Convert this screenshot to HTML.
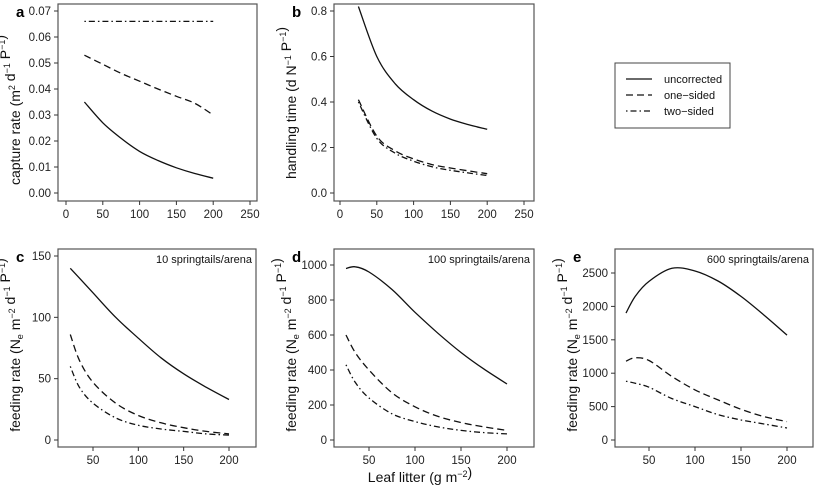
<!DOCTYPE html>
<html><head><meta charset="utf-8"><style>
body{margin:0;background:#fff}
svg{display:block;font-family:"Liberation Sans",sans-serif}
</style></head><body>
<svg id="s" width="814" height="491" viewBox="0 0 814 491" xmlns="http://www.w3.org/2000/svg"></svg>
<script>
const xA=[25,50,75,100,125,150,175,200];
const aSolid=[0.035,0.027,0.021,0.016,0.0125,0.0097,0.0075,0.0057];
const aDash=[0.053,0.0495,0.046,0.043,0.040,0.0372,0.0345,0.030];
const aDot=[0.066,0.066,0.066,0.066,0.066,0.066,0.066,0.066];
const bSolid=[0.82,0.60,0.48,0.41,0.36,0.325,0.30,0.28];
const bDash=[0.41,0.25,0.185,0.15,0.125,0.11,0.097,0.085];
const bDot=[0.40,0.24,0.175,0.14,0.115,0.10,0.088,0.077];
const xC=[25,35,50,75,100,125,150,175,200];
const cSolid=[140,132,120,100,83,67,54,43,33];
const cDash=[86,65,47,30,20,14,10,7,5];
const cDot=[60,43,30,18,12,9,7,5,4];
const dSolid=[980,990,960,860,730,610,500,405,320];
const dDash=[600,500,400,270,190,135,100,75,55];
const dDot=[430,330,240,150,105,75,55,42,35];
const eSolid=[1900,2150,2375,2570,2530,2380,2150,1870,1570];
const eDash=[1180,1230,1190,950,750,600,460,350,275];
const eDot=[880,850,790,620,500,380,300,240,180];
const ticksAB=[0,50,100,150,200,250];
const ticksX2=[50,100,150,200];

const S=document.getElementById('s');
const NS='http://www.w3.org/2000/svg';
function el(t,a,p){const e=document.createElementNS(NS,t);for(const k in a)e.setAttribute(k,a[k]);(p||S).appendChild(e);return e;}
const styles={solid:'none',dash:'7,4',dot:'1.5,3,6,3'};
const titles=[];
function smooth(pts){
  let d='M'+pts[0][0].toFixed(1)+','+pts[0][1].toFixed(1);
  for(let i=0;i<pts.length-1;i++){
    const p0=pts[i-1]||pts[i],p1=pts[i],p2=pts[i+1],p3=pts[i+2]||p2;
    const c1=[p1[0]+(p2[0]-p0[0])/6,p1[1]+(p2[1]-p0[1])/6];
    const c2=[p2[0]-(p3[0]-p1[0])/6,p2[1]-(p3[1]-p1[1])/6];
    d+=` C${c1[0].toFixed(1)},${c1[1].toFixed(1)} ${c2[0].toFixed(1)},${c2[1].toFixed(1)} ${p2[0].toFixed(1)},${p2[1].toFixed(1)}`;
  }
  return d;
}
function fit(){
  titles.forEach(([yl,o])=>{
    let w=0;try{w=yl.getComputedTextLength();}catch(e){}
    if(!w){try{w=yl.getBBox().width;}catch(e){}}
    const k=w?Math.min(1,o.ylen/w):o.k0;
    yl.setAttribute('transform',`translate(${o.L-38},${o.yc}) rotate(-90) scale(${k.toFixed(3)},1)`);
  });
}
function panel(o){
  const g=el('g',{});
  
  
  const sx=v=>o.x0+(v-o.xv0)*(o.x1-o.x0)/(o.xv1-o.xv0);
  const sy=v=>o.y0+(v-o.yv0)*(o.y1-o.y0)/(o.yv1-o.yv0);
  el('rect',{x:o.L,y:o.T,width:o.R-o.L,height:o.B-o.T,fill:'none',stroke:'#555','stroke-width':1.2},g);
  o.xt.forEach(v=>{const x=sx(v);
    el('line',{x1:x,x2:x,y1:o.B,y2:o.B+4,stroke:'#333'},g);
    const t=el('text',{x:x,y:o.B+17,'text-anchor':'middle','font-size':11.5,fill:'#222'},g);t.textContent=v;
    });
  o.yt.forEach(v=>{const y=sy(v);
    el('line',{x1:o.L,x2:o.L-4,y1:y,y2:y,stroke:'#333'},g);
    const t=el('text',{x:o.L-7,y:y+4,'text-anchor':'end','font-size':11.5,fill:'#222'},g);t.textContent=o.fmt(v);
    });
  o.series.forEach(([xs,ys,st])=>{
    const d=smooth(xs.map((x,i)=>[sx(x),sy(ys[i])]));
    const p=el('path',{d:d,fill:'none',stroke:'#111','stroke-width':1.3,'stroke-dasharray':styles[st]},g);
    });
  const lt=el('text',{x:o.L-42,y:o.T+13,'font-size':15,'font-weight':'bold',fill:'#000'},g);lt.textContent=o.id;
  
  const yl=el('text',{x:0,y:0,'text-anchor':'middle','font-size':14,fill:'#111',
    transform:`translate(${o.L-38},${o.yc}) rotate(-90) scale(${o.k0},1)`},g);
  yl.innerHTML=o.ylab;
  titles.push([yl,o]);
  if(o.note){const n=el('text',{x:o.R-4,y:o.T+14,'text-anchor':'end','font-size':11,fill:'#111'},g);n.textContent=o.note;
    }
}
const sup=(s)=>`<tspan dy="-5" font-size="9">${s}</tspan><tspan dy="5"></tspan>`;
panel({id:'a',L:58,R:257,T:4,B:201,x0:66,x1:250,xv0:0,xv1:250,y0:193,y1:11,yv0:0,yv1:0.07,
 xt:ticksAB,yt:[0,0.01,0.02,0.03,0.04,0.05,0.06,0.07],fmt:v=>v.toFixed(2),yc:110,ylen:168,k0:0.85,
 ylab:`capture rate (m${sup('2')} d${sup('−1')} P${sup('−1')})`,
 series:[[xA,aSolid,'solid'],[xA,aDash,'dash'],[xA,aDot,'dot']]});
panel({id:'b',L:334,R:534,T:4,B:201,x0:340,x1:524,xv0:0,xv1:250,y0:193,y1:11,yv0:0,yv1:0.8,
 xt:ticksAB,yt:[0,0.2,0.4,0.6,0.8],fmt:v=>v.toFixed(1),yc:103,ylen:152,k0:0.85,
 ylab:`handling time (d N${sup('−1')} P${sup('−1')})`,
 series:[[xA,bSolid,'solid'],[xA,bDash,'dash'],[xA,bDot,'dot']]});
const fl=`feeding rate  (N<tspan dy="3" font-size="9">e</tspan><tspan dy="-3"> m</tspan>${sup('−2')} d${sup('−1')} P${sup('−1')})`;
panel({id:'c',L:58,R:256,T:249,B:447,x0:93,x1:229,xv0:50,xv1:200,y0:440,y1:256,yv0:0,yv1:150,k0:0.85,
 xt:ticksX2,yt:[0,50,100,150],fmt:v=>v,ylab:fl,yc:345,ylen:184,note:'10 springtails/arena',
 series:[[xC,cSolid,'solid'],[xC,cDash,'dash'],[xC,cDot,'dot']]});
panel({id:'d',L:334,R:534,T:249,B:447,x0:369,x1:507,xv0:50,xv1:200,y0:440,y1:265,yv0:0,yv1:1000,k0:0.85,
 xt:ticksX2,yt:[0,200,400,600,800,1000],fmt:v=>v,ylab:fl,yc:345,ylen:184,note:'100 springtails/arena',
 series:[[xC,dSolid,'solid'],[xC,dDash,'dash'],[xC,dDot,'dot']]});
panel({id:'e',L:615,R:813,T:249,B:447,x0:649,x1:787,xv0:50,xv1:200,y0:440,y1:273,yv0:0,yv1:2500,k0:0.85,
 xt:ticksX2,yt:[0,500,1000,1500,2000,2500],fmt:v=>v,ylab:fl,yc:345,ylen:184,note:'600 springtails/arena',
 series:[[xC,eSolid,'solid'],[xC,eDash,'dash'],[xC,eDot,'dot']]});
const xt=el('text',{x:420,y:482,'text-anchor':'middle','font-size':14,fill:'#111'});
xt.innerHTML=`Leaf litter (g m${sup('−2')})`;

const lg=el('g',{});

el('rect',{x:615,y:63,width:115,height:65,fill:'#fff',stroke:'#444','stroke-width':1},lg);
[['uncorrected','solid'],['one−sided','dash'],['two−sided','dot']].forEach(([n,st],i)=>{
  const y=79+i*16;
  el('line',{x1:626,x2:652,y1:y,y2:y,stroke:'#111','stroke-width':1.3,'stroke-dasharray':styles[st]},lg);
  const t=el('text',{x:664,y:y+4,'font-size':11,fill:'#111'},lg);t.textContent=n;
  
});
fit();
window.addEventListener('load',fit);
</script>
</body></html>
